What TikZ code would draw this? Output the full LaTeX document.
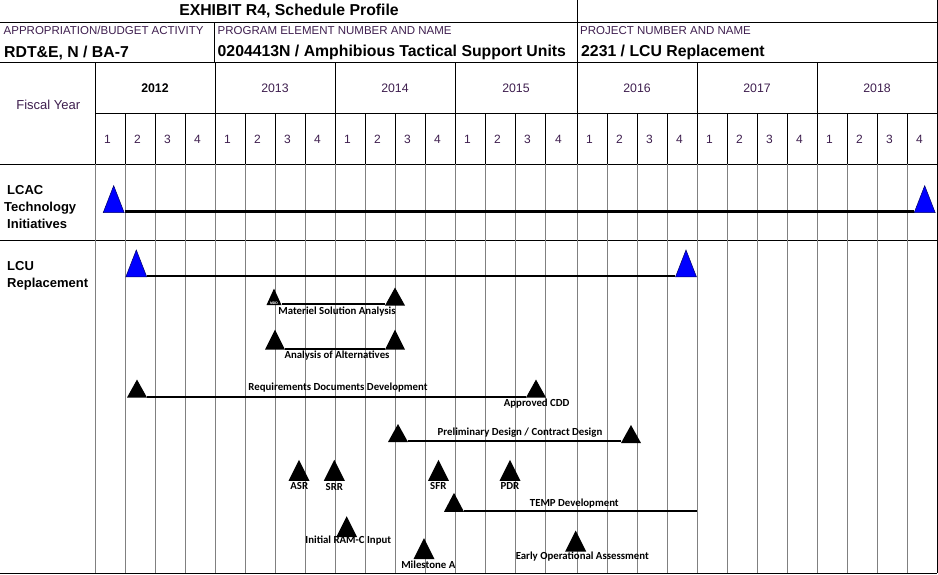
\documentclass[tikz,border=0pt]{standalone}
\usepackage{fontspec}
\setmainfont{Liberation Sans}
\newfontfamily\calfont{Carlito}
\usepackage{tikz}
\usetikzlibrary{positioning,shapes.geometric}
\definecolor{hdrink}{RGB}{62,30,78}
\definecolor{gridgray}{RGB}{128,128,128}
\definecolor{msblue}{RGB}{0,0,255}

\begin{document}
\begin{tikzpicture}[x=1pt,y=-1pt, every node/.style={inner sep=0pt},
  declare function={qx(\i)=95+30*\i+2*(\i>15);},
  rule/.style={draw=black,line width=1pt},
  gridln/.style={draw=gridgray,line width=1pt},
  hdr/.style={font=\fontsize{11.5}{13}\selectfont,text=hdrink,anchor=west},
  hdrbold/.style={font=\fontsize{15.8}{18}\selectfont\bfseries,anchor=west},
  yr/.style={font=\fontsize{12.3}{14}\selectfont,text=hdrink},
  qtr/.style={font=\fontsize{12}{14}\selectfont,text=hdrink},
  rowlbl/.style={font=\fontsize{13}{17}\selectfont\bfseries,align=left,anchor=north west},
  bigms/.style={isosceles triangle,isosceles triangle stretches,shape border rotate=90,
    draw=black!60!blue,fill=msblue,minimum width=21pt,minimum height=27pt,line width=0.5pt,anchor=apex},
  ms/.style={isosceles triangle,isosceles triangle stretches,shape border rotate=90,
    fill=black,minimum width=20pt,minimum height=20pt,anchor=apex},
  bar/.style={line width=2.2pt},
  mslbl/.style={font=\calfont\bfseries\fontsize{10.8}{12}\selectfont}]
  \useasboundingbox (0,0) rectangle (938,574);

  % table frame
  \draw[rule] (0,22) -- (937,22); \draw[rule] (0,62) -- (937,62);
  \draw[rule] (95,113) -- (937,113); \draw[rule] (0,164) -- (937,164);
  \draw[rule] (0,240) -- (937,240); \draw[rule] (0,573) -- (937,573);
  \draw[rule] (577,0) -- (577,62); \draw[rule] (214,22) -- (214,62);
  \draw[rule] (937,0) -- (937,573);
  \draw[rule] (95,62) -- (95,164); \draw[gridln] (95,164) -- (95,573);
  \foreach \j in {1,...,6} \draw[rule] ({qx(4*\j)},62) -- ({qx(4*\j)},113);
  \foreach \i in {1,...,27} {
    \draw[rule] ({qx(\i)},113) -- ({qx(\i)},164);
    \draw[gridln] ({qx(\i)},164) -- ({qx(\i)},573);
  }

  % header texts
  \node[font=\fontsize{15.8}{18}\selectfont\bfseries] (title) at (289,11) {EXHIBIT R4, Schedule Profile};
  \node[hdr] (apph) at (3.5,30.7) {APPROPRIATION/BUDGET ACTIVITY};
  \node[hdr] (peh) at (217.5,30.7) {PROGRAM ELEMENT NUMBER AND NAME};
  \node[hdr] (prjh) at (580,30.7) {PROJECT NUMBER AND NAME};
  \node[hdrbold] (app) at (4,52.7) {RDT\&E, N / BA-7};
  \node[hdrbold] (pe) at (217.5,52.7) {0204413N / Amphibious Tactical Support Units};
  \node[hdrbold] (prj) at (581,52.7) {2231 / LCU Replacement};
  \node[font=\fontsize{13}{15}\selectfont,text=hdrink] (fy) at (48.3,105.3) {Fiscal Year};
  \foreach \j/\yy in {0/2012,1/2013,2/2014,3/2015,4/2016,5/2017,6/2018}
    \node[yr] (y\yy) at ({(qx(4*\j)+qx(4*\j+4))/2},88.3) {\yy};
  \node[yr,font=\fontsize{12.3}{14}\selectfont\bfseries,text=black,fill=white] at (y2012) {2012};
  \foreach \i in {0,...,27} {
    \pgfmathtruncatemacro{\qn}{mod(\i,4)+1}
    \node[qtr] (q\i) at ({(qx(\i)+qx(\i+1))/2-2.5},139.3) {\qn};
  }

  % rows
  \node[rowlbl] (lcac) at (4,185) {\hspace{3pt}LCAC\\Technology\\\hspace{3pt}Initiatives};
  \node[rowlbl] (lcu) at (7,261) {LCU\\Replacement};

  % milestones
  \node[bigms] (lcacS) at (113.7,185) {};
  \node[bigms] (lcacE) at (924.7,185) {};
  \draw[bar] ([yshift=1.5pt]lcacS.right corner) -- ([yshift=1.5pt]lcacS.right corner -| lcacE.left corner);
  \node[bigms] (lcuS) at (136.3,249.3) {};
  \node[bigms] (lcuE) at (686,249.3) {};
  \draw[bar] ([yshift=1pt]lcuS.right corner) -- ([yshift=1pt]lcuS.right corner -| lcuE.left corner);

  \node[ms,minimum width=15pt,minimum height=16.5pt] (mdd) at (274,288) {};
  \node[font=\fontsize{3.5}{4}\selectfont\bfseries,text=white] (mddt) at ([yshift=2pt]mdd.south) {MDD};
  \node[ms,minimum height=18pt] (msaE) at (395,287) {};
  \draw[bar,line width=2pt] ([yshift=1pt]mdd.right corner) -- ([yshift=1pt]mdd.right corner -| msaE.left corner);
  \node[mslbl] (msa) at (337,312) {Materiel Solution Analysis};

  \node[ms] (aoaS) at (275,329) {};
  \node[ms] (aoaE) at (395,329) {};
  \draw[bar,line width=2pt] ([yshift=1pt]aoaS.right corner) -- ([yshift=1pt]aoaS.right corner -| aoaE.left corner);
  \node[mslbl] (aoa) at (337,355.7) {Analysis of Alternatives};

  \node[ms,minimum height=18pt] (rddS) at (137,379) {};
  \node[ms,minimum height=18pt] (rddE) at (536,379) {};
  \draw[bar,line width=2pt] ([yshift=1pt]rddS.right corner) -- ([yshift=1pt]rddS.right corner -| rddE.left corner);
  \node[mslbl] (rdd) at (338,387.3) {Requirements Documents Development};
  \node[mslbl] (cdd) at (536.7,404) {Approved CDD};

  \node[ms,minimum height=18pt] (pdS) at (398,423.5) {};
  \node[ms,minimum height=18pt] (pdE) at (631,424.5) {};
  \draw[bar,line width=2pt] ([yshift=1pt]pdS.right corner) -- ([yshift=1pt]pdS.right corner -| pdE.left corner);
  \node[mslbl] (pd) at (520,432.7) {Preliminary Design / Contract Design};

  \node[ms,minimum width=21pt,minimum height=21pt] (asrT) at (299,459.3) {};
  \node[mslbl] (asr) at (299.3,485.7) {ASR};
  \node[ms,minimum width=21pt,minimum height=21pt] (srrT) at (334.3,459.3) {};
  \node[mslbl] (srr) at (334.3,487) {SRR};
  \node[ms,minimum width=21pt,minimum height=21pt] (sfrT) at (438.5,459.3) {};
  \node[mslbl] (sfr) at (438.3,485.7) {SFR};
  \node[ms,minimum width=21pt,minimum height=21pt] (pdrT) at (510,459.3) {};
  \node[mslbl] (pdr) at (510,486) {PDR};

  \node[ms,minimum height=19pt] (tempS) at (454,492.3) {};
  \coordinate (tempE) at (697,509.5);
  \draw[bar,line width=2pt] ([yshift=1pt]tempS.right corner) -- ([yshift=1pt]tempS.right corner -| tempE);
  \node[mslbl] (temp) at (574.3,504) {TEMP Development};

  \node[ms,minimum width=21pt,minimum height=21pt] (ramT) at (346.7,515.7) {};
  \node[mslbl] (ram) at (348.3,541) {Initial RAM-C Input};
  \node[ms,minimum width=21pt,minimum height=21pt] (msAT) at (424,537.7) {};
  \node[mslbl] (msA) at (428.3,564.3) {Milestone A};
  \node[ms,minimum width=21pt,minimum height=21pt] (eoaT) at (575.7,530) {};
  \node[mslbl] (eoa) at (582.3,556.7) {Early Operational Assessment};
\end{tikzpicture}
\end{document}
